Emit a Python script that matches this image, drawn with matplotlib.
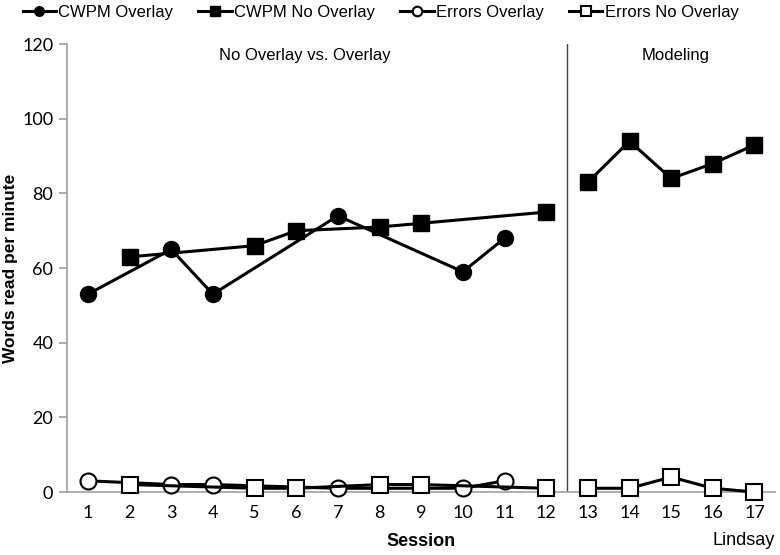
import matplotlib.pyplot as plt
import numpy as np

sessions = np.arange(1, 18)

# CWPM overlay (sessions 1,3,4,7,10,11)
ov_sess = [1, 3, 4, 7, 10, 11]
ov_cwpm = [53, 65, 53, 74, 59, 68]
ov_err = [3, 2, 2, 1, 1, 3]

# No overlay, baseline phase
no_sess = [2, 5, 6, 8, 9, 12]
no_cwpm = [63, 66, 70, 71, 72, 75]
no_err = [2, 1, 1, 2, 2, 1]

# Modeling phase
mod_sess = [13, 14, 15, 16, 17]
mod_cwpm = [83, 94, 84, 88, 93]
mod_err = [1, 1, 4, 1, 0]

plt.rcParams['font.family'] = ['Liberation Sans', 'DejaVu Sans']

fig = plt.figure(figsize=(7.8, 5.55), dpi=100)
ax = fig.add_axes([0.086, 0.1135, 0.908, 0.807])

lw = 2.2
ms = 11.5
kw = dict(color='k', lw=lw, ms=ms, clip_on=False, zorder=3)
ax.plot(ov_sess, ov_cwpm, marker='o', label='CWPM Overlay', **kw)
ax.plot(no_sess, no_cwpm, marker='s', label='CWPM No Overlay', **kw)
ax.plot(mod_sess, mod_cwpm, marker='s', **kw)
ax.plot(ov_sess, ov_err, marker='o', mfc='white', mew=1.5, label='Errors Overlay', **kw)
ax.plot(no_sess, no_err, marker='s', mfc='white', mew=1.5, label='Errors No Overlay', **kw)
ax.plot(mod_sess, mod_err, marker='s', mfc='white', mew=1.5, **kw)

# phase change line
ax.plot([12.5, 12.5], [0, 120], color='#404040', lw=1)

ax.set_xlim(0.5, 17.5)
ax.set_ylim(0, 120)
ax.set_yticks(range(0, 121, 20))
ax.set_xticks(sessions)

for s in ['top', 'right']:
    ax.spines[s].set_visible(False)
for s in ['left', 'bottom']:
    ax.spines[s].set_color('#a0a0a0')
    ax.spines[s].set_linewidth(1.2)
ax.tick_params(axis='y', color='#a0a0a0', length=6, width=1.2, labelsize=13, pad=4)
ax.tick_params(axis='x', length=0, labelsize=13, pad=9)
for lab in ax.get_xticklabels() + ax.get_yticklabels():
    lab.set_fontfamily(['Lato', 'DejaVu Sans'])

ax.set_ylabel('Words read per minute', fontsize=12.5, fontweight='bold')
ax.yaxis.set_label_coords(-0.07, 0.5)
ax.set_xlabel('Session', fontsize=13, fontweight='bold', labelpad=9)

ax.text(6.2, 117, 'No Overlay vs. Overlay', fontsize=12, ha='center', va='center')
ax.text(15.1, 117, 'Modeling', fontsize=12, ha='center', va='center')
fig.text(0.993, 0.027, 'Lindsay', fontsize=13, ha='right', va='center')

leg = fig.legend(loc='upper center', bbox_to_anchor=(0.488, 1.018), ncol=4, frameon=False,
                 fontsize=12, handlelength=2.0, handletextpad=0.15, columnspacing=1.5,
                 markerscale=0.6)

fig.savefig('out.png', dpi=100)
